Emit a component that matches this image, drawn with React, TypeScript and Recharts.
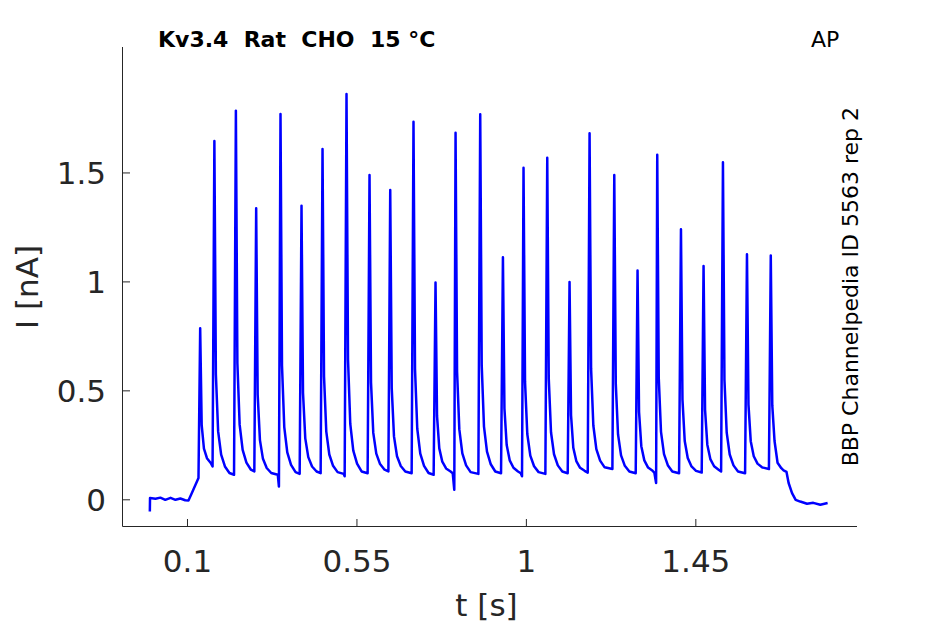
import React from 'react';
import { LineChart, Line, XAxis, YAxis } from 'recharts';

const xTicks = [0.1, 0.55, 1, 1.45];
const yTicks = [0, 0.5, 1, 1.5];
const xDomain: [number, number] = [-0.0726, 1.878];
const yDomain: [number, number] = [-0.1225, 2.078];

const titleText = 'Kv3.4  Rat  CHO  15 °C';
const protocolText = 'AP';
const sideText = 'BBP Channelpedia ID 5563 rep 2';
const xLabel = 't [s]';
const yLabel = 'I [nA]';

// [t (s), I (nA)]
const preStim: [number, number][] = [
  [0.0, -0.054], [0.0005, 0.008], [0.015, 0.005], [0.028, 0.01], [0.041, 0.0],
  [0.055, 0.009], [0.068, 0.0], [0.081, 0.006], [0.094, -0.002], [0.1026, -0.003],
  [0.1116, 0.031], [0.1201, 0.064], [0.1292, 0.1],
];

const spikes: [number, number][][] = [
  [[0.1337, 0.787], [0.1377, 0.343], [0.1437, 0.235], [0.1517, 0.191], [0.1617, 0.169], [0.1666, 0.153]],
  [[0.1714, 1.647], [0.1754, 0.575], [0.1814, 0.314], [0.1894, 0.207], [0.1994, 0.153], [0.2114, 0.123], [0.2236, 0.115]],
  [[0.2285, 1.786], [0.2325, 0.627], [0.2385, 0.345], [0.2465, 0.229], [0.2565, 0.171], [0.2685, 0.138], [0.2775, 0.13]],
  [[0.2824, 1.338], [0.2864, 0.482], [0.2924, 0.274], [0.3004, 0.188], [0.3104, 0.146], [0.3224, 0.123], [0.3398, 0.115], [0.3428, 0.061]],
  [[0.347, 1.771], [0.351, 0.615], [0.357, 0.334], [0.365, 0.218], [0.375, 0.16], [0.387, 0.127], [0.3979, 0.119]],
  [[0.4028, 1.35], [0.4068, 0.49], [0.4128, 0.282], [0.4208, 0.196], [0.4308, 0.153], [0.4428, 0.13], [0.4536, 0.122]],
  [[0.4586, 1.61], [0.4626, 0.566], [0.4686, 0.313], [0.4766, 0.208], [0.4866, 0.156], [0.4986, 0.127], [0.5147, 0.119], [0.5174, 0.108]],
  [[0.5223, 1.862], [0.5263, 0.644], [0.5323, 0.348], [0.5403, 0.226], [0.5503, 0.166], [0.5623, 0.13], [0.5784, 0.122]],
  [[0.5834, 1.491], [0.5874, 0.538], [0.5934, 0.307], [0.6014, 0.212], [0.6114, 0.164], [0.6234, 0.138], [0.6335, 0.13]],
  [[0.6384, 1.422], [0.6424, 0.512], [0.6484, 0.291], [0.6564, 0.2], [0.6664, 0.155], [0.6784, 0.13], [0.6953, 0.122]],
  [[0.7002, 1.735], [0.7042, 0.601], [0.7102, 0.326], [0.7182, 0.212], [0.7282, 0.156], [0.7402, 0.123], [0.7537, 0.115]],
  [[0.7587, 0.997], [0.7627, 0.385], [0.7687, 0.236], [0.7767, 0.175], [0.7867, 0.144], [0.7987, 0.13], [0.8044, 0.122], [0.8085, 0.046]],
  [[0.8119, 1.685], [0.8159, 0.589], [0.8219, 0.323], [0.8299, 0.213], [0.8399, 0.158], [0.8519, 0.127], [0.8725, 0.119]],
  [[0.8774, 1.769], [0.8814, 0.616], [0.8874, 0.336], [0.8954, 0.221], [0.9054, 0.163], [0.9174, 0.13], [0.9327, 0.122]],
  [[0.9377, 1.113], [0.9417, 0.419], [0.9477, 0.251], [0.9557, 0.181], [0.9657, 0.147], [0.9777, 0.13], [0.9852, 0.122], [0.9884, 0.108]],
  [[0.9924, 1.524], [0.9964, 0.541], [1.0024, 0.302], [1.0104, 0.203], [1.0204, 0.154], [1.0324, 0.127], [1.0504, 0.119]],
  [[1.0554, 1.57], [1.0594, 0.556], [1.0654, 0.31], [1.0734, 0.209], [1.0834, 0.158], [1.0954, 0.13], [1.1097, 0.122]],
  [[1.1146, 1.0], [1.1186, 0.388], [1.1246, 0.239], [1.1326, 0.178], [1.1426, 0.147], [1.1546, 0.133], [1.1629, 0.125]],
  [[1.1678, 1.682], [1.1718, 0.603], [1.1778, 0.341], [1.1858, 0.233], [1.1958, 0.18], [1.2078, 0.149], [1.2284, 0.141]],
  [[1.2334, 1.491], [1.2374, 0.533], [1.2434, 0.3], [1.2514, 0.204], [1.2614, 0.156], [1.2734, 0.13], [1.2903, 0.122]],
  [[1.2952, 1.052], [1.2992, 0.403], [1.3052, 0.246], [1.3132, 0.181], [1.3232, 0.148], [1.3352, 0.133], [1.3398, 0.125], [1.3445, 0.077]],
  [[1.3475, 1.583], [1.3515, 0.56], [1.3575, 0.312], [1.3655, 0.21], [1.3755, 0.159], [1.3875, 0.13], [1.4055, 0.122]],
  [[1.4105, 1.242], [1.4145, 0.46], [1.4205, 0.27], [1.4285, 0.192], [1.4385, 0.153], [1.4505, 0.133], [1.4656, 0.125]],
  [[1.4705, 1.073], [1.4745, 0.413], [1.4805, 0.253], [1.4885, 0.187], [1.4985, 0.154], [1.5105, 0.138], [1.5171, 0.13]],
  [[1.522, 1.549], [1.526, 0.55], [1.532, 0.308], [1.54, 0.208], [1.55, 0.158], [1.562, 0.13], [1.5808, 0.122]],
  [[1.5858, 1.127], [1.5898, 0.437], [1.5958, 0.269], [1.6038, 0.2], [1.6138, 0.166], [1.6258, 0.149], [1.6441, 0.141]],
  [[1.649, 1.121], [1.653, 0.433], [1.659, 0.27], [1.667, 0.17], [1.677, 0.145]],
];

const postStim: [number, number][] = [
  [1.683, 0.135], [1.6908, 0.128], [1.6964, 0.077], [1.7055, 0.031], [1.7151, 0.0],
  [1.7271, -0.008], [1.7453, -0.018], [1.7619, -0.014], [1.7805, -0.023], [1.8, -0.015],
];

const data = [...preStim, ...spikes.flat(), ...postStim].map(([t, i]) => ({ t, i }));

const FONT = '"DejaVu Sans", Verdana, sans-serif';
const AX = '#262626';

const XTick = (props: any) => {
  const { x, y, payload } = props;
  return (
    <g>
      <line x1={x} x2={x} y1={y} y2={y - 7.5} stroke={AX} strokeWidth={1} />
      <text x={x} y={y + 45} textAnchor="middle" fontSize={31} fill={AX} fontFamily={FONT}>
        {String(payload.value)}
      </text>
    </g>
  );
};

const YTick = (props: any) => {
  const { x, y, payload } = props;
  return (
    <g>
      <line x1={x} x2={x + 7.5} y1={y} y2={y} stroke={AX} strokeWidth={1} />
      <text x={x - 16.5} y={y + 11.3} textAnchor="end" fontSize={31} fill={AX} fontFamily={FONT}>
        {String(payload.value)}
      </text>
    </g>
  );
};

export default function App() {
  return (
    <div style={{ position: 'absolute', left: 0, top: 0, width: 945, height: 624, background: '#fff' }}>
      <LineChart
        width={945}
        height={624}
        data={data}
        margin={{ top: 47, right: 88, bottom: 96.5, left: 121.5 }}
      >
        <XAxis
          dataKey="t"
          type="number"
          domain={xDomain}
          ticks={xTicks}
          allowDataOverflow
          interval={0}
          height={1}
          tickSize={0}
          tickMargin={0}
          tickLine={false}
          axisLine={{ stroke: AX, strokeWidth: 1 }}
          tick={XTick}
        />
        <YAxis
          dataKey="i"
          type="number"
          domain={yDomain}
          ticks={yTicks}
          allowDataOverflow
          interval={0}
          width={1}
          tickSize={0}
          tickMargin={0}
          tickLine={false}
          axisLine={{ stroke: AX, strokeWidth: 1 }}
          tick={YTick}
        />
        <Line
          type="linear"
          dataKey="i"
          stroke="#0000ff"
          strokeWidth={2.5}
          dot={false}
          activeDot={false}
          isAnimationActive={false}
          strokeLinejoin="round"
        />
      </LineChart>
      <svg
        width={945}
        height={624}
        style={{ position: 'absolute', left: 0, top: 0, pointerEvents: 'none' }}
      >
        <text x={158} y={47} fontSize={22} fontWeight="bold" fill="#000" fontFamily={FONT} style={{ whiteSpace: 'pre' }} xmlSpace="preserve">
          {titleText}
        </text>
        <text x={811} y={47} fontSize={22} fill="#000" fontFamily={FONT}>
          {protocolText}
        </text>
        <text
          transform="translate(857.5, 286.7) rotate(-90)"
          textAnchor="middle"
          fontSize={22}
          fill="#000"
          fontFamily={FONT}
        >
          {sideText}
        </text>
        <text
          transform="translate(37.5, 287) rotate(-90)"
          textAnchor="middle"
          fontSize={31}
          fill={AX}
          fontFamily={FONT}
        >
          {yLabel}
        </text>
        <text x={486.5} y={616} textAnchor="middle" fontSize={31} fill={AX} fontFamily={FONT}>
          {xLabel}
        </text>
      </svg>
    </div>
  );
}
